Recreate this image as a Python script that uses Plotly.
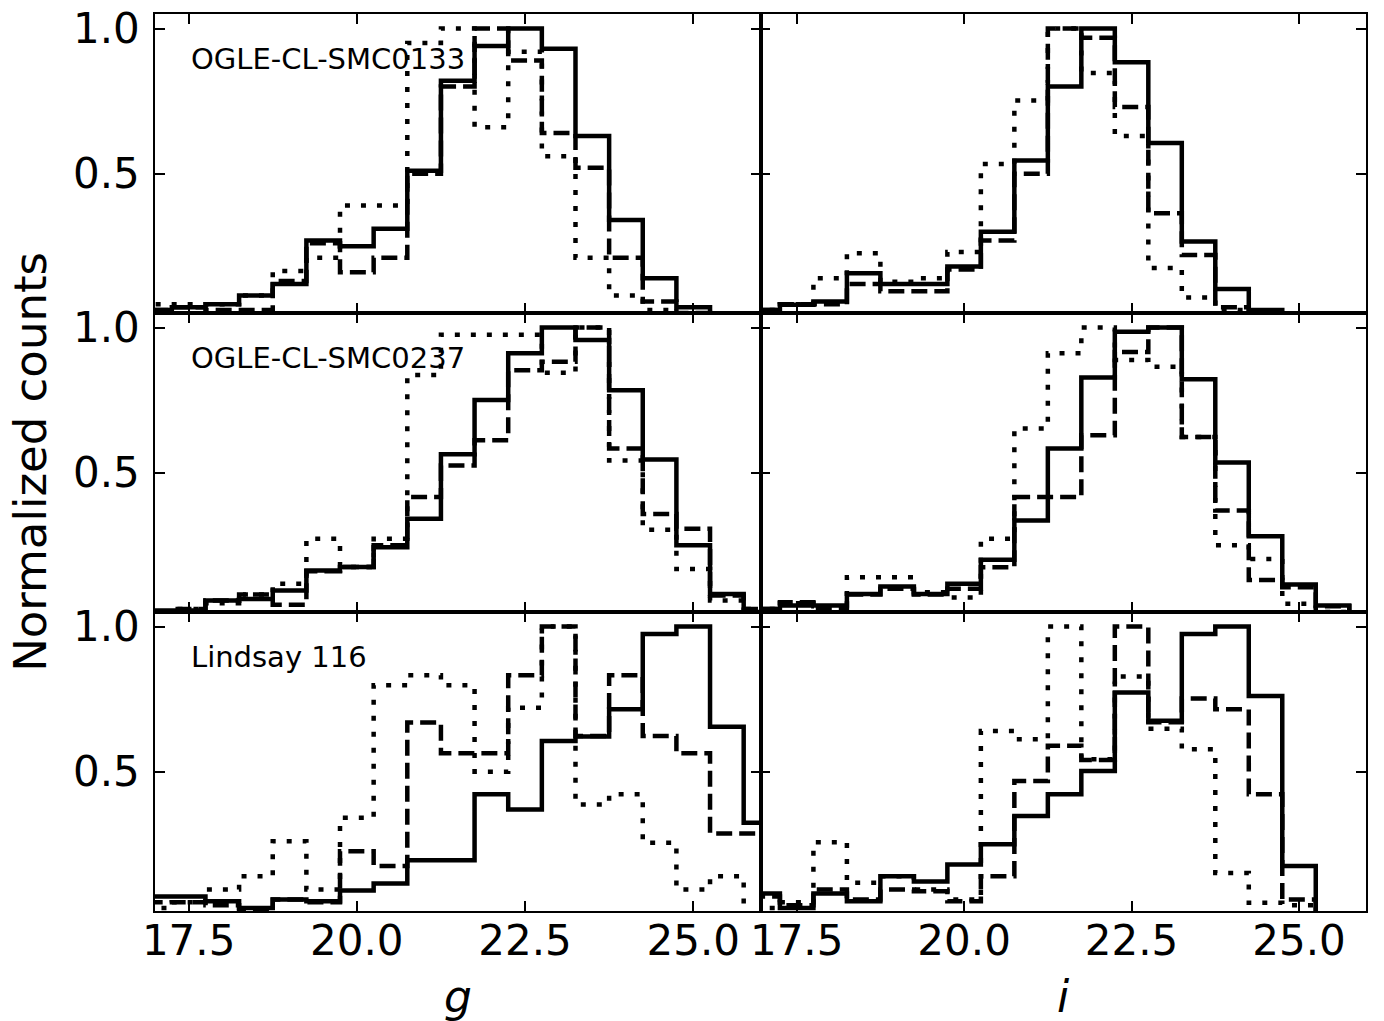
import plotly.graph_objects as go
from plotly.subplots import make_subplots

# Shared histogram bin edges (magnitude)
BIN_EDGES = [16.75, 17.25, 17.75, 18.25, 18.75, 19.25, 19.75, 20.25, 20.75, 21.25,
             21.75, 22.25, 22.75, 23.25, 23.75, 24.25, 24.75, 25.25, 25.75, 26.25]

CLUSTERS = ["OGLE-CL-SMC0133", "OGLE-CL-SMC0237", "Lindsay 116"]
X_TICKS = [17.5, 20.0, 22.5, 25.0]
X_TICK_TEXT = ["17.5", "20.0", "22.5", "25.0"]
Y_TICKS = [0.5, 1.0]
Y_TICK_TEXT = ["0.5", "1.0"]

# OGLE-CL-SMC0133, g band
smc0133_g_solid = [0.03, 0.04, 0.05, 0.08, 0.12, 0.27, 0.25, 0.31, 0.51, 0.82, 0.94, 1.0, 0.93, 0.63, 0.34, 0.14, 0.04, 0, 0]
smc0133_g_dashed = [0.03, 0.04, 0.03, 0.03, 0.13, 0.26, 0.16, 0.21, 0.50, 0.80, 1.0, 0.89, 0.64, 0.52, 0.21, 0.06, 0.02, 0, 0]
smc0133_g_dotted = [0.05, 0.05, 0.05, 0.08, 0.165, 0.21, 0.39, 0.39, 0.95, 1.0, 0.66, 0.92, 0.56, 0.21, 0.08, 0.03, 0, 0, 0]
# OGLE-CL-SMC0133, i band
smc0133_i_solid = [0.03, 0.048, 0.06, 0.157, 0.12, 0.12, 0.18, 0.30, 0.545, 0.80, 1.0, 0.884, 0.606, 0.266, 0.103, 0.03, 0, 0, 0]
smc0133_i_dashed = [0.03, 0.05, 0.05, 0.12, 0.095, 0.095, 0.17, 0.27, 0.50, 1.0, 0.968, 0.73, 0.364, 0.22, 0.04, 0.02, 0, 0, 0]
smc0133_i_dotted = [0.03, 0.05, 0.14, 0.226, 0.128, 0.14, 0.23, 0.533, 0.752, 1.0, 0.847, 0.63, 0.175, 0.073, 0.03, 0, 0, 0, 0]
# OGLE-CL-SMC0237, g band
smc0237_g_solid = [0.025, 0.025, 0.06, 0.065, 0.094, 0.163, 0.175, 0.243, 0.341, 0.563, 0.75, 0.911, 1.0, 0.957, 0.784, 0.545, 0.25, 0.082, 0.02]
smc0237_g_dashed = [0.02, 0.03, 0.06, 0.08, 0.045, 0.16, 0.175, 0.25, 0.416, 0.525, 0.612, 0.853, 0.882, 1.0, 0.583, 0.358, 0.307, 0.077, 0.03]
smc0237_g_dotted = [0.02, 0.03, 0.05, 0.08, 0.117, 0.272, 0.175, 0.272, 0.836, 0.975, 0.975, 0.975, 0.844, 1.0, 0.542, 0.303, 0.168, 0.06, 0.03]
# OGLE-CL-SMC0237, i band
smc0237_i_solid = [0.03, 0.042, 0.042, 0.082, 0.108, 0.082, 0.117, 0.2, 0.335, 0.583, 0.828, 0.985, 1.0, 0.822, 0.535, 0.281, 0.115, 0.042, 0]
smc0237_i_dashed = [0.03, 0.054, 0.03, 0.08, 0.1, 0.08, 0.1, 0.174, 0.416, 0.416, 0.629, 0.916, 1.0, 0.623, 0.37, 0.13, 0.105, 0.04, 0]
smc0237_i_dotted = [0.03, 0.05, 0.04, 0.14, 0.14, 0.088, 0.07, 0.272, 0.652, 0.911, 1.0, 0.888, 0.865, 0.623, 0.25, 0.203, 0.048, 0.02, 0]
# Lindsay 116, g band
l116_g_solid = [0.07, 0.07, 0.054, 0.03, 0.06, 0.054, 0.091, 0.115, 0.195, 0.195, 0.422, 0.37, 0.606, 0.621, 0.715, 0.974, 1.0, 0.655, 0.324]
l116_g_dashed = [0.05, 0.05, 0.04, 0.02, 0.06, 0.05, 0.226, 0.175, 0.669, 0.563, 0.563, 0.832, 1.0, 0.623, 0.832, 0.623, 0.563, 0.287, 0.287]
l116_g_dotted = [0.03, 0.05, 0.094, 0.14, 0.26, 0.094, 0.341, 0.798, 0.832, 0.798, 0.5, 0.72, 1.0, 0.387, 0.422, 0.255, 0.094, 0.14, 0.01]
# Lindsay 116, i band
l116_i_solid = [0.08, 0.03, 0.08, 0.054, 0.14, 0.122, 0.18, 0.25, 0.347, 0.422, 0.502, 0.773, 0.675, 0.974, 1.0, 0.761, 0.175, 0, 0]
l116_i_dashed = [0.07, 0.04, 0.094, 0.06, 0.094, 0.088, 0.054, 0.14, 0.468, 0.589, 0.54, 1.0, 0.67, 0.752, 0.715, 0.422, 0.06, 0, 0]
l116_i_dotted = [0.03, 0.05, 0.257, 0.117, 0.14, 0.094, 0.06, 0.64, 0.612, 1.0, 0.543, 0.828, 0.648, 0.577, 0.151, 0.048, 0.04, 0, 0]

PANELS = [
    (1, 1, [smc0133_g_solid, smc0133_g_dashed, smc0133_g_dotted]),
    (1, 2, [smc0133_i_solid, smc0133_i_dashed, smc0133_i_dotted]),
    (2, 1, [smc0237_g_solid, smc0237_g_dashed, smc0237_g_dotted]),
    (2, 2, [smc0237_i_solid, smc0237_i_dashed, smc0237_i_dotted]),
    (3, 1, [l116_g_solid, l116_g_dashed, l116_g_dotted]),
    (3, 2, [l116_i_solid, l116_i_dashed, l116_i_dotted]),
]

STYLES = ["solid", "16px,7px", "5px,11px"]
LW = 4.5


def step_path(vals):
    xs, ys = [BIN_EDGES[0]], [0]
    for k, v in enumerate(vals):
        xs += [BIN_EDGES[k], BIN_EDGES[k + 1]]
        ys += [v, v]
    xs.append(BIN_EDGES[len(vals)])
    ys.append(0)
    return xs, ys


fig = make_subplots(rows=3, cols=2, horizontal_spacing=0, vertical_spacing=0)

for row, col, series in PANELS:
    for vals, dash in zip(reversed(series), reversed(STYLES)):
        xs, ys = step_path(vals)
        fig.add_trace(go.Scatter(x=xs, y=ys, mode="lines",
                                 line=dict(color="black", width=LW, dash=dash),
                                 hoverinfo="skip", showlegend=False),
                      row=row, col=col)

axis_common = dict(showline=True, linecolor="black", linewidth=1.5, mirror="ticks",
                   ticks="inside", ticklen=10, tickwidth=1.5, tickcolor="black",
                   showgrid=False, zeroline=False, automargin=False,
                   tickfont=dict(family="DejaVu Sans", size=42, color="black"))

for row in (1, 2, 3):
    for col in (1, 2):
        fig.update_xaxes(row=row, col=col, range=[17.0, 26.0] if col == 1 else [16.96, 26.0],
                         tickvals=X_TICKS, ticktext=X_TICK_TEXT, ticklabelstandoff=-8,
                         showticklabels=(row == 3), **axis_common)
        fig.update_yaxes(row=row, col=col, range=[0.02, 1.05],
                         tickvals=Y_TICKS, ticktext=Y_TICK_TEXT, ticklabelstandoff=5,
                         showticklabels=(col == 1), **axis_common)

annotations = []
for idx, name in enumerate(CLUSTERS):
    xref = "x" if idx == 0 else f"x{2 * idx + 1}"
    yref = "y" if idx == 0 else f"y{2 * idx + 1}"
    annotations.append(dict(text=name, x=17.5, y=0.895, xref=xref, yref=yref,
                            xanchor="left", yanchor="middle", showarrow=False,
                            font=dict(family="DejaVu Sans", size=29, color="black")))

annotations.append(dict(text="Normalized counts", x=-0.103, y=0.501, xref="paper", yref="paper",
                        textangle=-90, xanchor="center", yanchor="middle", showarrow=False,
                        font=dict(family="DejaVu Sans", size=45, color="black")))
annotations.append(dict(text="<i>g</i>", x=0.25, y=-0.095, xref="paper", yref="paper",
                        xanchor="center", yanchor="middle", showarrow=False,
                        font=dict(family="DejaVu Sans", size=44, color="black")))
annotations.append(dict(text="<i>i</i>", x=0.75, y=-0.095, xref="paper", yref="paper",
                        xanchor="center", yanchor="middle", showarrow=False,
                        font=dict(family="DejaVu Sans", size=44, color="black")))

fig.update_layout(width=1384, height=1021, margin=dict(l=155, r=18, t=14, b=110),
                  plot_bgcolor="white", paper_bgcolor="white", showlegend=False,
                  font=dict(family="DejaVu Sans", color="black"),
                  annotations=annotations)

fig.write_html("out.html")
